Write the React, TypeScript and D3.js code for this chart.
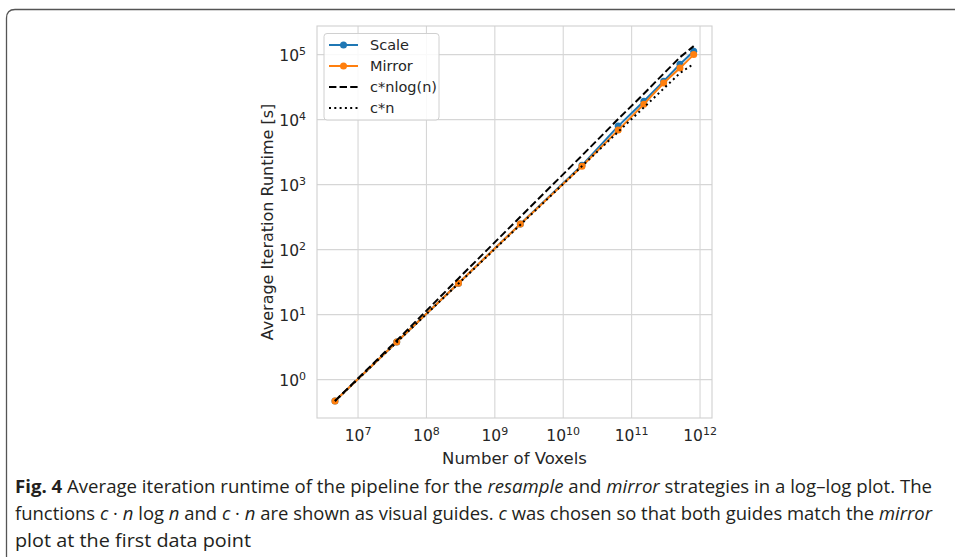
import React, { useEffect, useRef } from "react";
import * as d3 from "d3";

// voxel counts per run (x) and runtimes in seconds (y)
const voxels = [4.6e6, 3.68e7, 2.94e8, 2.36e9, 1.88e10, 6.36e10, 1.51e11, 2.94e11, 5.09e11, 8.08e11];
const scaleRuntime = [0.47, 3.8, 30.5, 248, 1980, 7950, 19200, 39000, 71000, 113000];
const mirrorRuntime = [0.47, 3.8, 30.5, 247, 1920, 6900, 17300, 36500, 62000, 100000];
const guideNLogN = [0.47, 4.0, 36, 320, 2800, 10200, 25000, 51000, 91000, 135000];
const guideN = [0.47, 3.76, 30, 241, 1925, 6500, 15400, 30000, 52000, 72000];

const xTicks = [7, 8, 9, 10, 11, 12];
const yTicks = [0, 1, 2, 3, 4, 5];

const legendItems = [
  { label: "Scale", color: "#1f77b4", dash: null, marker: true },
  { label: "Mirror", color: "#ff7f0e", dash: null, marker: true },
  { label: "c*nlog(n)", color: "#000", dash: "7.4,3.2", marker: false },
  { label: "c*n", color: "#000", dash: "2,3.3", marker: false },
];

const W = 955, H = 557;
const plot = { left: 317, right: 712, top: 26, bottom: 418 };
const FONT = "'DejaVu Sans', Verdana, sans-serif";
const CAPTION_FONT = "'Liberation Sans Narrow', 'Open Sans', sans-serif";

export default function App() {
  const ref = useRef<SVGSVGElement>(null);

  useEffect(() => {
    const svg = d3.select(ref.current);
    svg.selectAll("*").remove();

    const x = d3.scaleLog().domain([Math.pow(10, 6.4), Math.pow(10, 12.175)]).range([plot.left, plot.right]);
    const y = d3.scaleLog().domain([Math.pow(10, -0.59), Math.pow(10, 5.44)]).range([plot.bottom, plot.top]);

    svg.append("rect").attr("width", W).attr("height", H).attr("fill", "#fff");

    // figure frame (rounded top-left corner)
    svg.append("path")
      .attr("d", `M6.5,${H} L6.5,18 Q6.5,9.5 15,9.5 L${W},9.5`)
      .attr("fill", "none")
      .attr("stroke", "#555")
      .attr("stroke-width", 1.3);

    // grid
    const grid = svg.append("g").attr("stroke", "#d6d6d6").attr("stroke-width", 1.1);
    xTicks.forEach((t) => {
      grid.append("line").attr("x1", x(Math.pow(10, t))).attr("x2", x(Math.pow(10, t)))
        .attr("y1", plot.top).attr("y2", plot.bottom);
    });
    yTicks.forEach((t) => {
      grid.append("line").attr("y1", y(Math.pow(10, t))).attr("y2", y(Math.pow(10, t)))
        .attr("x1", plot.left).attr("x2", plot.right);
    });
    svg.append("rect")
      .attr("x", plot.left).attr("y", plot.top)
      .attr("width", plot.right - plot.left).attr("height", plot.bottom - plot.top)
      .attr("fill", "none").attr("stroke", "#d0d0d0").attr("stroke-width", 1.1);

    // tick labels
    xTicks.forEach((t) => {
      const txt = svg.append("text")
        .attr("x", x(Math.pow(10, t))).attr("y", 441)
        .attr("text-anchor", "middle")
        .attr("font-family", FONT).attr("font-size", 15.5).attr("fill", "#262626");
      txt.append("tspan").text("10");
      txt.append("tspan").attr("font-size", 11).attr("dy", -6).text(t);
    });
    yTicks.forEach((t) => {
      const txt = svg.append("text")
        .attr("x", 306).attr("y", y(Math.pow(10, t)) + 6)
        .attr("text-anchor", "end")
        .attr("font-family", FONT).attr("font-size", 15.5).attr("fill", "#262626");
      txt.append("tspan").text("10");
      txt.append("tspan").attr("font-size", 11).attr("dy", -6).text(t);
    });

    // axis labels
    svg.append("text")
      .attr("x", (plot.left + plot.right) / 2).attr("y", 464)
      .attr("text-anchor", "middle")
      .attr("font-family", FONT).attr("font-size", 16.5).attr("fill", "#262626")
      .text("Number of Voxels");
    svg.append("text")
      .attr("transform", `translate(273,${(plot.top + plot.bottom) / 2}) rotate(-90)`)
      .attr("text-anchor", "middle")
      .attr("font-family", FONT).attr("font-size", 16).attr("fill", "#262626")
      .text("Average Iteration Runtime [s]");

    // series
    const line = d3.line<number>()
      .x((_, i) => x(voxels[i]))
      .y((d) => y(d));

    const series = [
      { values: scaleRuntime, color: "#1f77b4", dash: null, marker: true },
      { values: mirrorRuntime, color: "#ff7f0e", dash: null, marker: true },
      { values: guideNLogN, color: "#000", dash: "7.4,3.2", marker: false },
      { values: guideN, color: "#000", dash: "2,3.3", marker: false },
    ];

    series.forEach((s) => {
      svg.append("path")
        .datum(s.values)
        .attr("fill", "none")
        .attr("stroke", s.color)
        .attr("stroke-width", 2)
        .attr("stroke-dasharray", s.dash)
        .attr("d", line);
      if (s.marker) {
        svg.selectAll(null)
          .data(s.values)
          .enter()
          .append("circle")
          .attr("cx", (_, i) => x(voxels[i]))
          .attr("cy", (d) => y(d))
          .attr("r", 3.5)
          .attr("fill", s.color);
      }
    });

    // legend
    const lg = svg.append("g");
    lg.append("rect")
      .attr("x", 324).attr("y", 33.5).attr("width", 115).attr("height", 86.5)
      .attr("rx", 3).attr("fill", "#fff").attr("fill-opacity", 0.85)
      .attr("stroke", "#d0d0d0").attr("stroke-width", 1);
    legendItems.forEach((item, i) => {
      const ly = 45 + i * 21;
      lg.append("line")
        .attr("x1", 329).attr("x2", 358).attr("y1", ly).attr("y2", ly)
        .attr("stroke", item.color).attr("stroke-width", 2)
        .attr("stroke-dasharray", item.dash);
      if (item.marker) {
        lg.append("circle").attr("cx", 343.5).attr("cy", ly).attr("r", 3.5).attr("fill", item.color);
      }
      lg.append("text")
        .attr("x", 370).attr("y", ly + 5)
        .attr("font-family", FONT).attr("font-size", 14.5).attr("fill", "#262626")
        .text(item.label);
    });

    // caption
    const cap = svg.append("g").attr("font-family", CAPTION_FONT).attr("font-size", 18).attr("fill", "#231f20");
    const l1 = cap.append("text").attr("x", 15).attr("y", 493)
      .attr("textLength", 917).attr("lengthAdjust", "spacingAndGlyphs");
    l1.append("tspan").attr("font-weight", "bold").text("Fig. 4");
    l1.append("tspan").text("  Average iteration runtime of the pipeline for the ");
    l1.append("tspan").attr("font-style", "italic").text("resample");
    l1.append("tspan").text(" and ");
    l1.append("tspan").attr("font-style", "italic").text("mirror");
    l1.append("tspan").text(" strategies in a log\u2013log plot. The");

    const l2 = cap.append("text").attr("x", 15).attr("y", 520)
      .attr("textLength", 917).attr("lengthAdjust", "spacingAndGlyphs");
    l2.append("tspan").text("functions ");
    l2.append("tspan").attr("font-style", "italic").text("c");
    l2.append("tspan").text(" \u00b7 ");
    l2.append("tspan").attr("font-style", "italic").text("n");
    l2.append("tspan").text(" log ");
    l2.append("tspan").attr("font-style", "italic").text("n");
    l2.append("tspan").text(" and ");
    l2.append("tspan").attr("font-style", "italic").text("c");
    l2.append("tspan").text(" \u00b7 ");
    l2.append("tspan").attr("font-style", "italic").text("n");
    l2.append("tspan").text(" are shown as visual guides. ");
    l2.append("tspan").attr("font-style", "italic").text("c");
    l2.append("tspan").text(" was chosen so that both guides match the ");
    l2.append("tspan").attr("font-style", "italic").text("mirror");

    cap.append("text").attr("x", 15).attr("y", 547)
      .attr("textLength", 236).attr("lengthAdjust", "spacingAndGlyphs")
      .text("plot at the first data point");
  }, []);

  return (
    <svg
      ref={ref}
      width={W}
      height={H}
      style={{ position: "absolute", left: 0, top: 0, display: "block" }}
    />
  );
}
